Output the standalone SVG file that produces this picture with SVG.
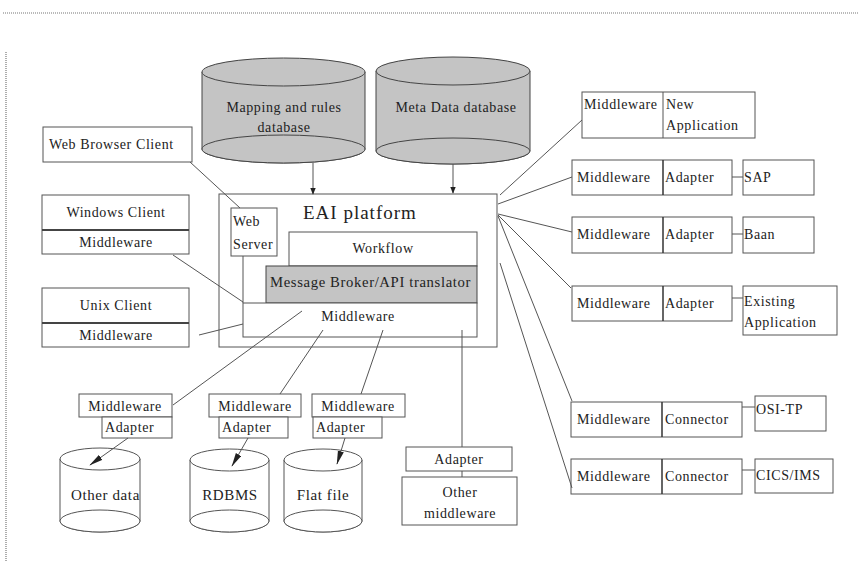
<svg xmlns="http://www.w3.org/2000/svg" width="858" height="562" viewBox="0 0 858 562" font-family="'Liberation Serif', 'Times New Roman', serif">
<style>
  text { font-family: "Liberation Serif", "Times New Roman", serif; font-size: 14px; fill: #222; letter-spacing: 0.6px; }
  .box { fill: #fff; stroke: #555; stroke-width: 1; }
  .gray { fill: #c4c4c4; stroke: #444; stroke-width: 1; }
  .cyl { fill: #fff; stroke: #555; stroke-width: 1; }
  .ln { stroke: #555; stroke-width: 1; fill: none; }
  .frame { stroke: #777; stroke-width: 1.2; stroke-dasharray: 1 1; fill: none; }
  .mid { text-anchor: middle; }
</style>
<defs>
  <marker id="ah" viewBox="0 0 10 10" refX="9" refY="5" markerWidth="7" markerHeight="7" orient="auto-start-reverse">
    <path d="M0,1 L10,5 L0,9 z" fill="#222"/>
  </marker>
  <marker id="ahl" viewBox="0 0 16 8" refX="15" refY="4" markerWidth="14" markerHeight="7" orient="auto" markerUnits="userSpaceOnUse">
    <path d="M0,0.5 L16,4 L0,7.5 z" fill="#222"/>
  </marker>
  <clipPath id="clipOther"><rect x="60" y="440" width="80" height="100"/></clipPath>
</defs>
<rect x="0" y="0" width="858" height="562" fill="#fff"/>
<g id="frame">
  <line class="frame" x1="3" y1="13" x2="858" y2="13"/>
  <line class="frame" x1="6" y1="52" x2="6" y2="562"/>
</g>

<g id="mapping-db">
  <path class="gray" d="M202,72 L202,149 A81.5,14 0 0 0 365,149 L365,72 Z"/>
  <ellipse class="gray" cx="283.5" cy="72" rx="81.5" ry="14"/>
  <ellipse class="gray" cx="283.5" cy="149" rx="81.5" ry="14"/>
  <text class="mid" x="284" y="112">Mapping and rules</text>
  <text class="mid" x="284" y="132">database</text>
</g>
<g id="meta-db">
  <path class="gray" d="M376,71 L376,151 A77,13 0 0 0 530,151 L530,71 Z"/>
  <ellipse class="gray" cx="453" cy="71" rx="77" ry="14"/>
  <ellipse class="gray" cx="453" cy="151" rx="77" ry="13"/>
  <text class="mid" x="456" y="112">Meta Data database</text>
</g>

<g id="web-browser-client">
  <rect class="box" x="43" y="127" width="149" height="35"/>
  <text x="49" y="149">Web Browser Client</text>
</g>
<g id="windows-client">
  <rect class="box" x="42" y="195" width="147" height="59"/>
  <line x1="42" y1="230" x2="189" y2="230" stroke="#444" stroke-width="2"/>
  <text class="mid" x="116" y="217">Windows Client</text>
  <text class="mid" x="116" y="247">Middleware</text>
</g>
<g id="unix-client">
  <rect class="box" x="42" y="288" width="147" height="59"/>
  <line x1="42" y1="323" x2="189" y2="323" stroke="#444" stroke-width="2"/>
  <text class="mid" x="116" y="310">Unix Client</text>
  <text class="mid" x="116" y="340">Middleware</text>
</g>

<g id="eai-platform">
  <rect class="box" x="219" y="194" width="278" height="153"/>
  <text x="303" y="219" style="font-size:19px;letter-spacing:1px">EAI platform</text>
  <rect class="box" x="231" y="208" width="46" height="48"/>
  <text x="233" y="226">Web</text>
  <text x="233" y="249">Server</text>
  <line class="ln" x1="243" y1="256" x2="243" y2="303"/>
  <rect class="box" x="289" y="232" width="188" height="34"/>
  <text class="mid" x="383" y="253">Workflow</text>
  <rect class="gray" x="266" y="266" width="211" height="37"/>
  <text x="270" y="287" textLength="201" lengthAdjust="spacingAndGlyphs">Message Broker/API translator</text>
  <rect class="box" x="243" y="303" width="234" height="34"/>
  <text class="mid" x="358" y="321">Middleware</text>
</g>

<g id="other-data">
  <rect class="box" x="79" y="394" width="93" height="23"/>
  <text class="mid" x="125" y="411">Middleware</text>
  <rect class="box" x="102" y="417" width="70" height="21"/>
  <text x="105" y="432">Adapter</text>
  <path class="cyl" d="M60,459 L60,521 A40,11 0 0 0 140,521 L140,459 Z"/>
  <ellipse class="cyl" cx="100" cy="459" rx="40" ry="11"/>
  <ellipse class="cyl" cx="100" cy="521" rx="40" ry="11"/>
  <text x="71" y="500" clip-path="url(#clipOther)" style="font-size:15px">Other data</text>
</g>
<g id="rdbms">
  <rect class="box" x="209" y="394" width="92" height="23"/>
  <text class="mid" x="255" y="411">Middleware</text>
  <rect class="box" x="219" y="417" width="69" height="21"/>
  <text x="222" y="432">Adapter</text>
  <path class="cyl" d="M190,460 L190,521 A39.5,11 0 0 0 269,521 L269,460 Z"/>
  <ellipse class="cyl" cx="229.5" cy="460" rx="39.5" ry="11"/>
  <ellipse class="cyl" cx="229.5" cy="521" rx="39.5" ry="11"/>
  <text class="mid" x="230" y="500" style="font-size:15px">RDBMS</text>
</g>
<g id="flat-file">
  <rect class="box" x="312" y="394" width="93" height="23"/>
  <text class="mid" x="358" y="411">Middleware</text>
  <rect class="box" x="313" y="417" width="69" height="21"/>
  <text x="316" y="432">Adapter</text>
  <path class="cyl" d="M284,460 L284,521 A39,11 0 0 0 362,521 L362,460 Z"/>
  <ellipse class="cyl" cx="323" cy="460" rx="39" ry="11"/>
  <ellipse class="cyl" cx="323" cy="521" rx="39" ry="11"/>
  <text class="mid" x="323" y="500" style="font-size:15px">Flat file</text>
</g>
<g id="other-middleware">
  <rect class="box" x="406" y="447" width="106" height="24"/>
  <text class="mid" x="459" y="464">Adapter</text>
  <rect class="box" x="402" y="477" width="115" height="48"/>
  <text class="mid" x="460" y="497">Other</text>
  <text class="mid" x="460" y="518">middleware</text>
</g>

<g id="new-application">
  <rect class="box" x="582" y="92" width="173" height="46"/>
  <line class="ln" x1="663" y1="92" x2="663" y2="138"/>
  <text x="584" y="109">Middleware</text>
  <text x="666" y="109">New</text>
  <text x="666" y="130">Application</text>
</g>
<g id="sap">
  <rect class="box" x="572" y="160" width="160" height="35"/>
  <line x1="663" y1="160" x2="663" y2="195" stroke="#333" stroke-width="1.5"/>
  <text x="577" y="182">Middleware</text>
  <text x="665" y="182">Adapter</text>
  <rect class="box" x="743" y="160" width="71" height="35"/>
  <text x="744" y="182">SAP</text>
</g>
<g id="baan">
  <rect class="box" x="572" y="217" width="160" height="36"/>
  <line x1="663" y1="217" x2="663" y2="253" stroke="#333" stroke-width="1.5"/>
  <text x="577" y="239">Middleware</text>
  <text x="665" y="239">Adapter</text>
  <rect class="box" x="743" y="217" width="71" height="36"/>
  <text x="744" y="239">Baan</text>
</g>
<g id="existing-application">
  <rect class="box" x="572" y="286" width="160" height="35"/>
  <line x1="663" y1="286" x2="663" y2="321" stroke="#333" stroke-width="1.5"/>
  <text x="577" y="308">Middleware</text>
  <text x="665" y="308">Adapter</text>
  <rect class="box" x="743" y="286" width="94" height="49"/>
  <text x="744" y="306">Existing</text>
  <text x="744" y="327">Application</text>
</g>
<g id="osi-tp">
  <rect class="box" x="571" y="402" width="171" height="35"/>
  <line x1="662" y1="402" x2="662" y2="437" stroke="#333" stroke-width="1.5"/>
  <text x="577" y="424">Middleware</text>
  <text x="665" y="424">Connector</text>
  <rect class="box" x="755" y="396" width="71" height="35"/>
  <text x="756" y="414">OSI-TP</text>
</g>
<g id="cics-ims">
  <rect class="box" x="571" y="459" width="171" height="35"/>
  <line x1="662" y1="459" x2="662" y2="494" stroke="#333" stroke-width="1.5"/>
  <text x="577" y="481">Middleware</text>
  <text x="665" y="481">Connector</text>
  <rect class="box" x="755" y="459" width="78" height="34"/>
  <text x="756" y="480">CICS/IMS</text>
</g>

<g id="connectors">
  <line class="ln" x1="313" y1="163" x2="313" y2="194" marker-end="url(#ah)"/>
  <line class="ln" x1="453" y1="164" x2="453" y2="193" marker-end="url(#ah)"/>
  <line class="ln" x1="190" y1="162" x2="240" y2="208"/>
  <line class="ln" x1="173" y1="255" x2="243" y2="302"/>
  <line class="ln" x1="199" y1="335" x2="243" y2="324"/>
  <line class="ln" x1="302" y1="311" x2="173" y2="405"/>
  <line class="ln" x1="323" y1="330" x2="280" y2="394"/>
  <line class="ln" x1="383" y1="330" x2="361" y2="394"/>
  <line class="ln" x1="462" y1="330" x2="462" y2="447"/>
  <line class="ln" x1="462" y1="471" x2="462" y2="477"/>
  <line class="ln" x1="128" y1="438" x2="90" y2="465" marker-end="url(#ahl)"/>
  <line class="ln" x1="248" y1="438" x2="232" y2="466" marker-end="url(#ahl)"/>
  <line class="ln" x1="345" y1="438" x2="337" y2="464" marker-end="url(#ahl)"/>
  <line class="ln" x1="500" y1="195" x2="582" y2="120"/>
  <line class="ln" x1="498" y1="204" x2="572" y2="177"/>
  <line class="ln" x1="498" y1="214" x2="572" y2="232"/>
  <line class="ln" x1="498" y1="215" x2="571" y2="288"/>
  <line class="ln" x1="498" y1="216" x2="572" y2="401"/>
  <line class="ln" x1="500" y1="263" x2="572" y2="488"/>
  <line class="ln" x1="732" y1="177" x2="743" y2="177"/>
  <line class="ln" x1="732" y1="234" x2="743" y2="234"/>
  <line class="ln" x1="732" y1="298" x2="743" y2="298"/>
  <line class="ln" x1="742" y1="407" x2="755" y2="407"/>
  <line class="ln" x1="742" y1="470" x2="755" y2="470"/>
</g>
</svg>
